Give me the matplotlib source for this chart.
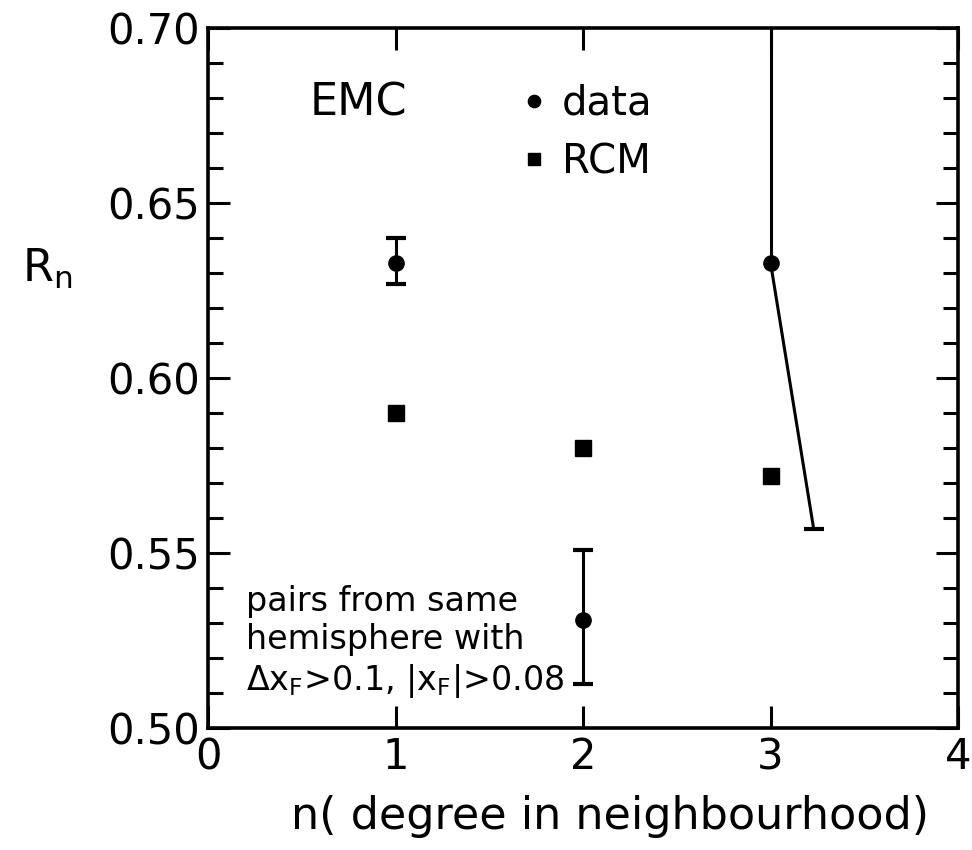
import numpy as np
import matplotlib
matplotlib.use('Agg')
import matplotlib.pyplot as plt
from matplotlib.ticker import MultipleLocator

# values
n_data = [1, 2, 3]
r_data = [0.633, 0.531, 0.633]
r_lo = [0.627, 0.5125, 0.557]
r_hi = [0.640, 0.551, 0.75]
n_lo_end = [1, 2, 3.23]   # lower bar of n=3 is drawn slanted in the original

n_rcm = [1, 2, 3]
r_rcm = [0.590, 0.580, 0.572]

plt.rcParams['font.family'] = ['DejaVu Sans']

fig = plt.figure(figsize=(9.72, 8.5), dpi=100)
ax = fig.add_axes([0.214, 0.1435, 0.7716, 0.8235])

lw = 2.2
# error bars
for x, xe, y, lo, hi in zip(n_data, n_lo_end, r_data, r_lo, r_hi):
    ax.plot([x, x], [y, hi], color='k', lw=lw, solid_capstyle='butt')
    ax.plot([x, xe], [y, lo], color='k', lw=lw, solid_capstyle='butt')
    ax.plot([xe], [lo], marker='_', ms=15, mew=3, color='k')
    if hi < 0.70:
        ax.plot([x], [hi], marker='_', ms=15, mew=3, color='k')

ax.plot(n_data, r_data, 'o', ms=11, color='k', ls='none', label='data')
ax.plot(n_rcm, r_rcm, 's', ms=11, color='k', ls='none', label='RCM')

ax.set_xlim(0, 4)
ax.set_ylim(0.50, 0.70)
ax.xaxis.set_major_locator(MultipleLocator(1))
ax.yaxis.set_major_locator(MultipleLocator(0.05))
ax.yaxis.set_minor_locator(MultipleLocator(0.01))
ax.yaxis.set_major_formatter(matplotlib.ticker.FormatStrFormatter('%.2f'))

for s in ax.spines.values():
    s.set_linewidth(2.6)
ax.tick_params(which='both', direction='in', top=True, right=True, width=2.2)
ax.tick_params(which='major', length=16, labelsize=30, pad=6)
ax.tick_params(which='minor', length=11)

ax.set_ylabel('R$_\\mathregular{n}$', fontsize=32, rotation=0)
ax.yaxis.set_label_coords(-0.215, 0.625)
ax.set_xlabel('n( degree in neighbourhood)', fontsize=32)
ax.xaxis.set_label_coords(0.536, -0.095)

ax.text(0.135, 0.893, 'EMC', transform=ax.transAxes, fontsize=32,
        ha='left', va='center')
ax.legend(loc='upper left', bbox_to_anchor=(0.375, 0.972), frameon=False,
          fontsize=29, handlelength=0.4, handletextpad=0.5, labelspacing=0.45,
          markerscale=0.8, numpoints=1)

ax.text(0.05, 0.04,
        'pairs from same\nhemisphere with\n$\\Delta$x$_\\mathregular{F}$>0.1, |x$_\\mathregular{F}$|>0.08',
        transform=ax.transAxes, fontsize=24, ha='left', va='bottom',
        linespacing=1.2)

fig.savefig('out.png', dpi=100)
